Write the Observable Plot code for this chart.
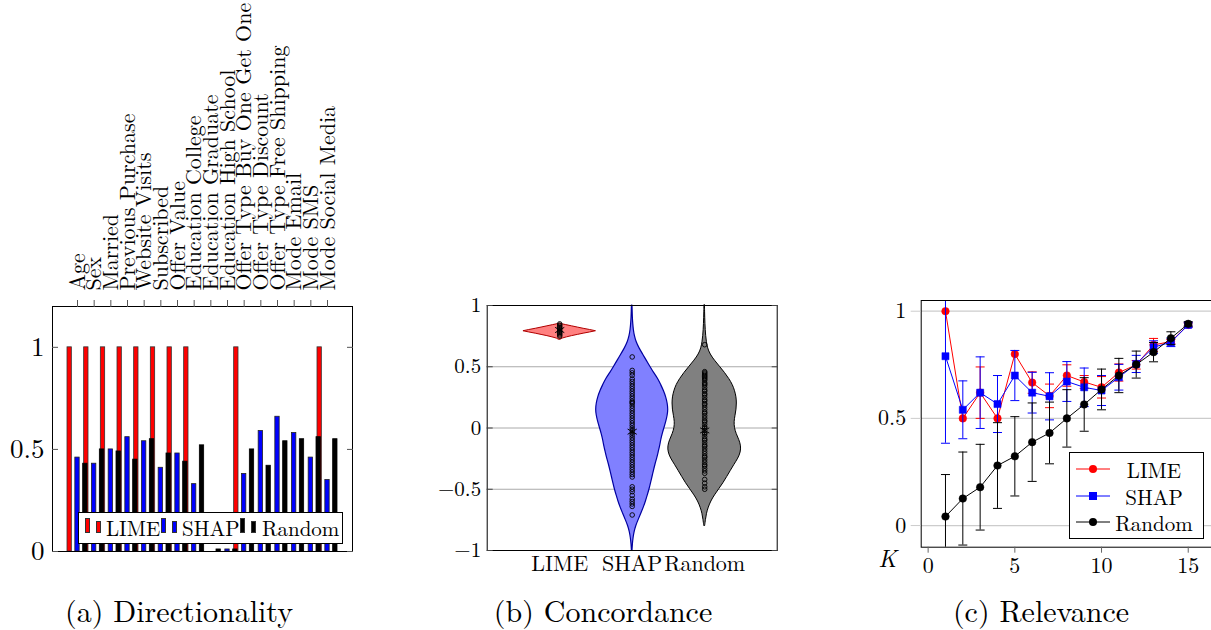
<!DOCTYPE html>
<html><head><meta charset="utf-8">
<script src="https://cdn.jsdelivr.net/npm/d3@7"></script>
<script src="https://cdn.jsdelivr.net/npm/@observablehq/plot@0.6"></script>
<style>
body{margin:0;background:#fff;}
#root{position:relative;width:1211px;height:630px;overflow:hidden;background:#fff;font-family:"Latin Modern Roman","CMU Serif","Liberation Serif","Times New Roman",serif;color:#000;}
.panel{position:absolute;}
.panel svg{max-width:none;overflow:visible;display:block;}
.cap{position:absolute;top:592px;width:300px;height:36px;font-size:30px;line-height:36px;white-space:nowrap;text-align:center;}
.lg{position:absolute;background:#fff;border:1px solid #000;box-sizing:border-box;}
.lg .sw{position:absolute;box-sizing:border-box;border:0.8px solid #333;}
.lg .tx{position:absolute;white-space:nowrap;}
</style></head>
<body>
<div id="root">
  <div class="panel" id="pa" style="left:0;top:0"></div>
  <div class="panel" id="pb" style="left:420px;top:280px"></div>
  <div class="panel" id="pc" style="left:860px;top:280px"></div>
  <div class="lg" id="lega" style="left:78px;top:512px;width:265px;height:32px"></div>
  <div class="lg" id="legc" style="left:1069px;top:452px;width:135px;height:87px"></div>
  <div class="cap" style="left:29px">(a) Directionality</div>
  <div class="cap" style="left:453px">(b) Concordance</div>
  <div class="cap" style="left:891px">(c) Relevance</div>
</div>
<script>
const FONT = '"Latin Modern Roman","CMU Serif","Liberation Serif","Times New Roman",serif';
const fmt = d => d < 0 ? "\u2212" + Math.abs(d) : String(d);

// ---------- (a) Directionality ----------
const features = ["Age","Sex","Married","Previous Purchase","Website Visits","Subscribed","Offer Value","Education College","Education Graduate","Education High School","Offer Type Buy One Get One","Offer Type Discount","Offer Type Free Shipping","Mode Email","Mode SMS","Mode Social Media"];
const limeDir = [1,1,1,1,1,1,1,1,0,0,1,0,0,0,0,1];
const shapDir = [0.46,0.43,0.50,0.56,0.54,0.41,0.48,0.33,0,0.01,0.38,0.59,0.66,0.58,0.46,0.35];
const randDir = [0.43,0.50,0.49,0.45,0.55,0.48,0.44,0.52,0.01,0.01,0.50,0.42,0.54,0.55,0.56,0.55];
const dirTicks = [0, 0.5, 1];
const dirSeries = ["LIME","SHAP","Random"];
const dirColors = ["#ff0000","#0000ff","#000000"];

const barHalf = 0.13;
const bars = (vals, shift) => vals.map((v, i) => ({v, x1: i + shift - barHalf, x2: i + shift + barHalf}));

const pa = Plot.plot({
  width: 360, height: 560, marginLeft: 52, marginRight: 8, marginTop: 306, marginBottom: 9,
  style: {fontFamily: FONT, background: "transparent", overflow: "visible"},
  x: {type: "linear", domain: [-1.5, 16.5], axis: null, label: null},
  y: {domain: [0, 1.2], axis: null, label: null},
  marks: [
    Plot.rect(bars(limeDir, -0.47), {x1: "x1", x2: "x2", y1: 0, y2: "v", fill: dirColors[0], stroke: "#333", strokeWidth: 0.8}),
    Plot.rect(bars(shapDir, 0), {x1: "x1", x2: "x2", y1: 0, y2: "v", fill: dirColors[1], stroke: "#222", strokeWidth: 0.8}),
    Plot.rect(bars(randDir, 0.47), {x1: "x1", x2: "x2", y1: 0, y2: "v", fill: dirColors[2], stroke: "#000", strokeWidth: 0.8}),
    Plot.frame({stroke: "#000", strokeWidth: 1}),
    Plot.axisX({anchor: "top", ticks: d3.range(features.length), tickFormat: i => features[i], tickRotate: -90, tickSize: 7, tickPadding: 9, fontSize: 22, stroke: "#555", label: null}),
    Plot.axisY({anchor: "left", ticks: dirTicks, tickSize: 0, tickPadding: 8, fontSize: 27, tickFormat: fmt, label: null}),
    Plot.axisY({anchor: "left", ticks: dirTicks, tickSize: 6, dx: 6, tickFormat: () => "", stroke: "#555", label: null}),
    Plot.axisY({anchor: "right", ticks: dirTicks, tickSize: 6, dx: -6, tickFormat: () => "", stroke: "#555", label: null})
  ]
});
document.getElementById("pa").appendChild(pa);

// legend (a)
{
  const lg = document.getElementById("lega");
  const iconX = [6, 82, 161];
  const textX = [27, 103, 183];
  dirSeries.forEach((name, j) => {
    const b1 = document.createElement("div");
    b1.className = "sw";
    Object.assign(b1.style, {left: iconX[j] + "px", top: "5px", width: "5px", height: "15px", background: dirColors[j]});
    const b2 = document.createElement("div");
    b2.className = "sw";
    Object.assign(b2.style, {left: (iconX[j] + 11) + "px", top: "8px", width: "5px", height: "12px", background: dirColors[j]});
    const t = document.createElement("div");
    t.className = "tx";
    t.textContent = name;
    Object.assign(t.style, {left: textX[j] + "px", top: "2px", fontSize: "21px", lineHeight: "24px"});
    lg.append(b1, b2, t);
  });
}

// ---------- (b) Concordance ----------
const methods = ["LIME","SHAP","Random"];
const concTicks = [-1, -0.5, 0, 0.5, 1];
const levels = [1,0.95,0.9,0.85,0.8,0.75,0.7,0.65,0.6,0.55,0.5,0.45,0.4,0.35,0.3,0.25,0.2,0.15,0.1,0.05,0,-0.05,-0.1,-0.15,-0.2,-0.25,-0.3,-0.35,-0.4,-0.45,-0.5,-0.55,-0.6,-0.65,-0.7,-0.75,-0.8,-0.85,-0.9,-0.95,-1];
const shapWidth = [0.004,0.006,0.009,0.014,0.022,0.036,0.06,0.10,0.15,0.20,0.25,0.30,0.36,0.40,0.44,0.47,0.49,0.50,0.49,0.47,0.445,0.42,0.40,0.385,0.365,0.345,0.32,0.30,0.28,0.26,0.24,0.215,0.19,0.16,0.125,0.09,0.055,0.032,0.018,0.009,0.004];
const randWidth = [0.004,0.005,0.007,0.01,0.014,0.02,0.03,0.045,0.08,0.14,0.21,0.28,0.34,0.39,0.42,0.44,0.445,0.44,0.425,0.41,0.415,0.44,0.48,0.505,0.50,0.465,0.41,0.36,0.31,0.26,0.20,0.14,0.09,0.055,0.03,0.017,0.006,NaN,NaN,NaN,NaN];
const limeLevels = [0.85,0.84,0.83,0.82,0.81,0.80,0.79,0.78,0.77,0.76,0.75,0.74,0.73,0.72];
const limeWidth = [0.01,0.09,0.17,0.25,0.33,0.42,0.50,0.42,0.33,0.25,0.17,0.10,0.04,0.01];
const limePts = [0.75,0.76,0.77,0.78,0.79,0.80,0.81,0.82,0.83,0.84,0.85];
const shapPts = [0.58,0.47,0.45,0.43,0.40,0.38,0.36,0.34,0.32,0.30,0.28,0.26,0.24,0.22,0.21,0.20,0.18,0.16,0.14,0.12,0.10,0.08,0.06,0.04,0.02,0.0,-0.02,-0.04,-0.06,-0.08,-0.10,-0.12,-0.14,-0.16,-0.18,-0.20,-0.22,-0.24,-0.26,-0.28,-0.30,-0.32,-0.34,-0.36,-0.38,-0.40,-0.48,-0.50,-0.52,-0.55,-0.58,-0.60,-0.62,-0.64,-0.71];
const randPts = [0.68,0.46,0.45,0.44,0.43,0.42,0.41,0.40,0.39,0.37,0.36,0.35,0.33,0.31,0.30,0.28,0.27,0.25,0.23,0.22,0.20,0.19,0.17,0.15,0.13,0.12,0.10,0.08,0.06,0.05,0.03,0.01,0.0,-0.02,-0.04,-0.05,-0.07,-0.09,-0.10,-0.12,-0.14,-0.15,-0.17,-0.19,-0.21,-0.23,-0.24,-0.26,-0.28,-0.30,-0.31,-0.33,-0.35,-0.37,-0.42,-0.45,-0.48,-0.50];
const concMeans = [0.80, -0.03, -0.02];

const violin = (lv, w, c) => lv.map((y, i) => ({y, x1: c - w[i], x2: c + w[i]}));
const pts = (arr, c) => arr.map(y => ({x: c, y}));

const pb = Plot.plot({
  width: 370, height: 300, marginLeft: 66.7, marginRight: 13.3, marginTop: 25, marginBottom: 30,
  style: {fontFamily: FONT, background: "transparent", overflow: "visible"},
  x: {type: "linear", domain: [0, 4], axis: null, label: null},
  y: {domain: [-1, 1], axis: null, label: null},
  marks: [
    Plot.gridY([-0.5, 0, 0.5], {stroke: "#aaa", strokeOpacity: 1, strokeWidth: 1}),
    Plot.areaX(violin(limeLevels, limeWidth, 1), {y: "y", x1: "x1", x2: "x2", fill: "#ff8080", stroke: "#b00000", strokeWidth: 1, curve: "linear"}),
    Plot.areaX(violin(levels, shapWidth, 2), {y: "y", x1: "x1", x2: "x2", fill: "#8080ff", stroke: "#0000a0", strokeWidth: 1.2, curve: "basis"}),
    Plot.areaX(violin(levels, randWidth, 3), {y: "y", x1: "x1", x2: "x2", fill: "#808080", stroke: "#000", strokeWidth: 1, curve: "basis"}),
    Plot.dot(pts(limePts, 1), {x: "x", y: "y", r: 2.3, stroke: "#000", strokeWidth: 0.9, fill: "none"}),
    Plot.dot(pts(shapPts, 2), {x: "x", y: "y", r: 2.3, stroke: "#000", strokeWidth: 0.9, fill: "none"}),
    Plot.dot(pts(randPts, 3), {x: "x", y: "y", r: 2.3, stroke: "#000", strokeWidth: 0.9, fill: "none"}),
    Plot.dot(concMeans, {x: (d, i) => i + 1, y: d => d, symbol: "asterisk", r: 5, stroke: "#000", strokeWidth: 1}),
    Plot.frame({stroke: "#000", strokeWidth: 1}),
    Plot.axisY({anchor: "left", ticks: concTicks, tickSize: 0, tickPadding: 6, fontSize: 21, tickFormat: fmt, label: null}),
    Plot.axisY({anchor: "left", ticks: concTicks, tickSize: 6, dx: 6, tickFormat: () => "", stroke: "#444", label: null}),
    Plot.axisY({anchor: "right", ticks: concTicks, tickSize: 6, dx: -6, tickFormat: () => "", stroke: "#444", label: null}),
    Plot.axisX({anchor: "bottom", ticks: [1, 2, 3], tickFormat: i => methods[i - 1], tickSize: 0, tickPadding: 5, fontSize: 22, label: null})
  ]
});
document.getElementById("pb").appendChild(pb);

// ---------- (c) Relevance ----------
const kValues = [1,2,3,4,5,6,7,8,9,10,11,12,13,14,15];
const limeRel = [1.0,0.50,0.62,0.50,0.80,0.667,0.605,0.70,0.67,0.645,0.714,0.75,0.843,0.858,0.936];
const limeRelErr = [0,0,0.12,0,0,0.05,0.055,0.05,0.03,0.05,0.04,0.02,0.03,0.01,0.01];
const shapRel = [0.79,0.54,0.62,0.567,0.70,0.62,0.603,0.672,0.645,0.63,0.692,0.754,0.832,0.855,0.936];
const shapRelErr = [0.406,0.135,0.167,0.133,0.117,0.095,0.11,0.093,0.09,0.07,0.06,0.04,0.03,0.02,0.01];
const randRel = [0.042,0.126,0.179,0.28,0.323,0.389,0.432,0.50,0.565,0.635,0.70,0.751,0.809,0.874,0.941];
const randRelErr = [0.196,0.217,0.2,0.2,0.185,0.183,0.144,0.134,0.125,0.095,0.08,0.063,0.045,0.03,0.01];
const relTicksY = [0, 0.5, 1];
const relTicksX = [0, 5, 10, 15];

const capSymbol = {draw(ctx, size) { const r = Math.sqrt(size / Math.PI); ctx.moveTo(-r, 0); ctx.lineTo(r, 0); }};

function relSeries(vals, errs, color, symbol, r) {
  const rows = vals.map((v, i) => ({k: kValues[i], v, lo: v - errs[i], hi: v + errs[i], e: errs[i]}));
  const withErr = rows.filter(d => d.e > 0);
  return [
    Plot.ruleX(withErr, {x: "k", y1: "lo", y2: "hi", stroke: color, strokeWidth: 1, clip: true}),
    Plot.dot(withErr, {x: "k", y: "lo", symbol: capSymbol, r: 4.5, stroke: color, fill: "none", strokeWidth: 1, clip: true}),
    Plot.dot(withErr, {x: "k", y: "hi", symbol: capSymbol, r: 4.5, stroke: color, fill: "none", strokeWidth: 1, clip: true}),
    Plot.line(rows, {x: "k", y: "v", stroke: color, strokeWidth: 1}),
    Plot.dot(rows, {x: "k", y: "v", symbol, r, fill: color, stroke: color, strokeWidth: 0.5})
  ];
}

const pc = Plot.plot({
  width: 352, height: 300, marginLeft: 60.7, marginRight: 0, marginTop: 20, marginBottom: 33.3,
  style: {fontFamily: FONT, background: "transparent", overflow: "visible"},
  x: {type: "linear", domain: [-0.4, 16.4], axis: null, label: null},
  y: {domain: [-0.101, 1.05], axis: null, label: null},
  marks: [
    Plot.gridY(relTicksY, {stroke: "#ccc", strokeOpacity: 1, strokeWidth: 1.3}),
    ...relSeries(limeRel, limeRelErr, "#ff0000", "circle", 3.8),
    ...relSeries(shapRel, shapRelErr, "#0000ff", "square", 4),
    ...relSeries(randRel, randRelErr, "#000000", "circle", 3.8),
    Plot.frame({stroke: "#000", strokeWidth: 1}),
    Plot.axisY({anchor: "left", ticks: relTicksY, tickSize: 10, tickPadding: 5, stroke: "#ccc", fontSize: 22, tickFormat: fmt, label: null}),
    Plot.axisX({anchor: "bottom", ticks: relTicksX, tickSize: 6, tickPadding: 4, stroke: "#666", fontSize: 22, tickFormat: fmt, label: null}),
    Plot.text(["K"], {text: d => d, frameAnchor: "bottom-left", dx: -43, dy: 20, fontStyle: "italic", fontSize: 24})
  ]
});
document.getElementById("pc").appendChild(pc);

// legend (c)
{
  const lg = document.getElementById("legc");
  const entries = [["LIME", "#ff0000", "circle"], ["SHAP", "#0000ff", "square"], ["Random", "#000000", "circle"]];
  entries.forEach(([name, color, shape], j) => {
    const cy = 16 + j * 26.5;
    const ns = "http://www.w3.org/2000/svg";
    const s = document.createElementNS(ns, "svg");
    s.setAttribute("width", 36); s.setAttribute("height", 12);
    Object.assign(s.style, {position: "absolute", left: "5px", top: (cy - 6) + "px"});
    const ln = document.createElementNS(ns, "line");
    ln.setAttribute("x1", 1); ln.setAttribute("x2", 35); ln.setAttribute("y1", 6); ln.setAttribute("y2", 6);
    ln.setAttribute("stroke", color); ln.setAttribute("stroke-width", 1);
    s.appendChild(ln);
    let m;
    if (shape === "circle") { m = document.createElementNS(ns, "circle"); m.setAttribute("cx", 18); m.setAttribute("cy", 6); m.setAttribute("r", 4); }
    else { m = document.createElementNS(ns, "rect"); m.setAttribute("x", 14); m.setAttribute("y", 2); m.setAttribute("width", 8); m.setAttribute("height", 8); }
    m.setAttribute("fill", color);
    s.appendChild(m);
    const t = document.createElement("div");
    t.className = "tx";
    t.textContent = name;
    Object.assign(t.style, {left: "44px", width: "80px", textAlign: "center", top: (cy - 11) + "px", fontSize: "21px", lineHeight: "22px"});
    lg.append(s, t);
  });
}
</script>
</body></html>
